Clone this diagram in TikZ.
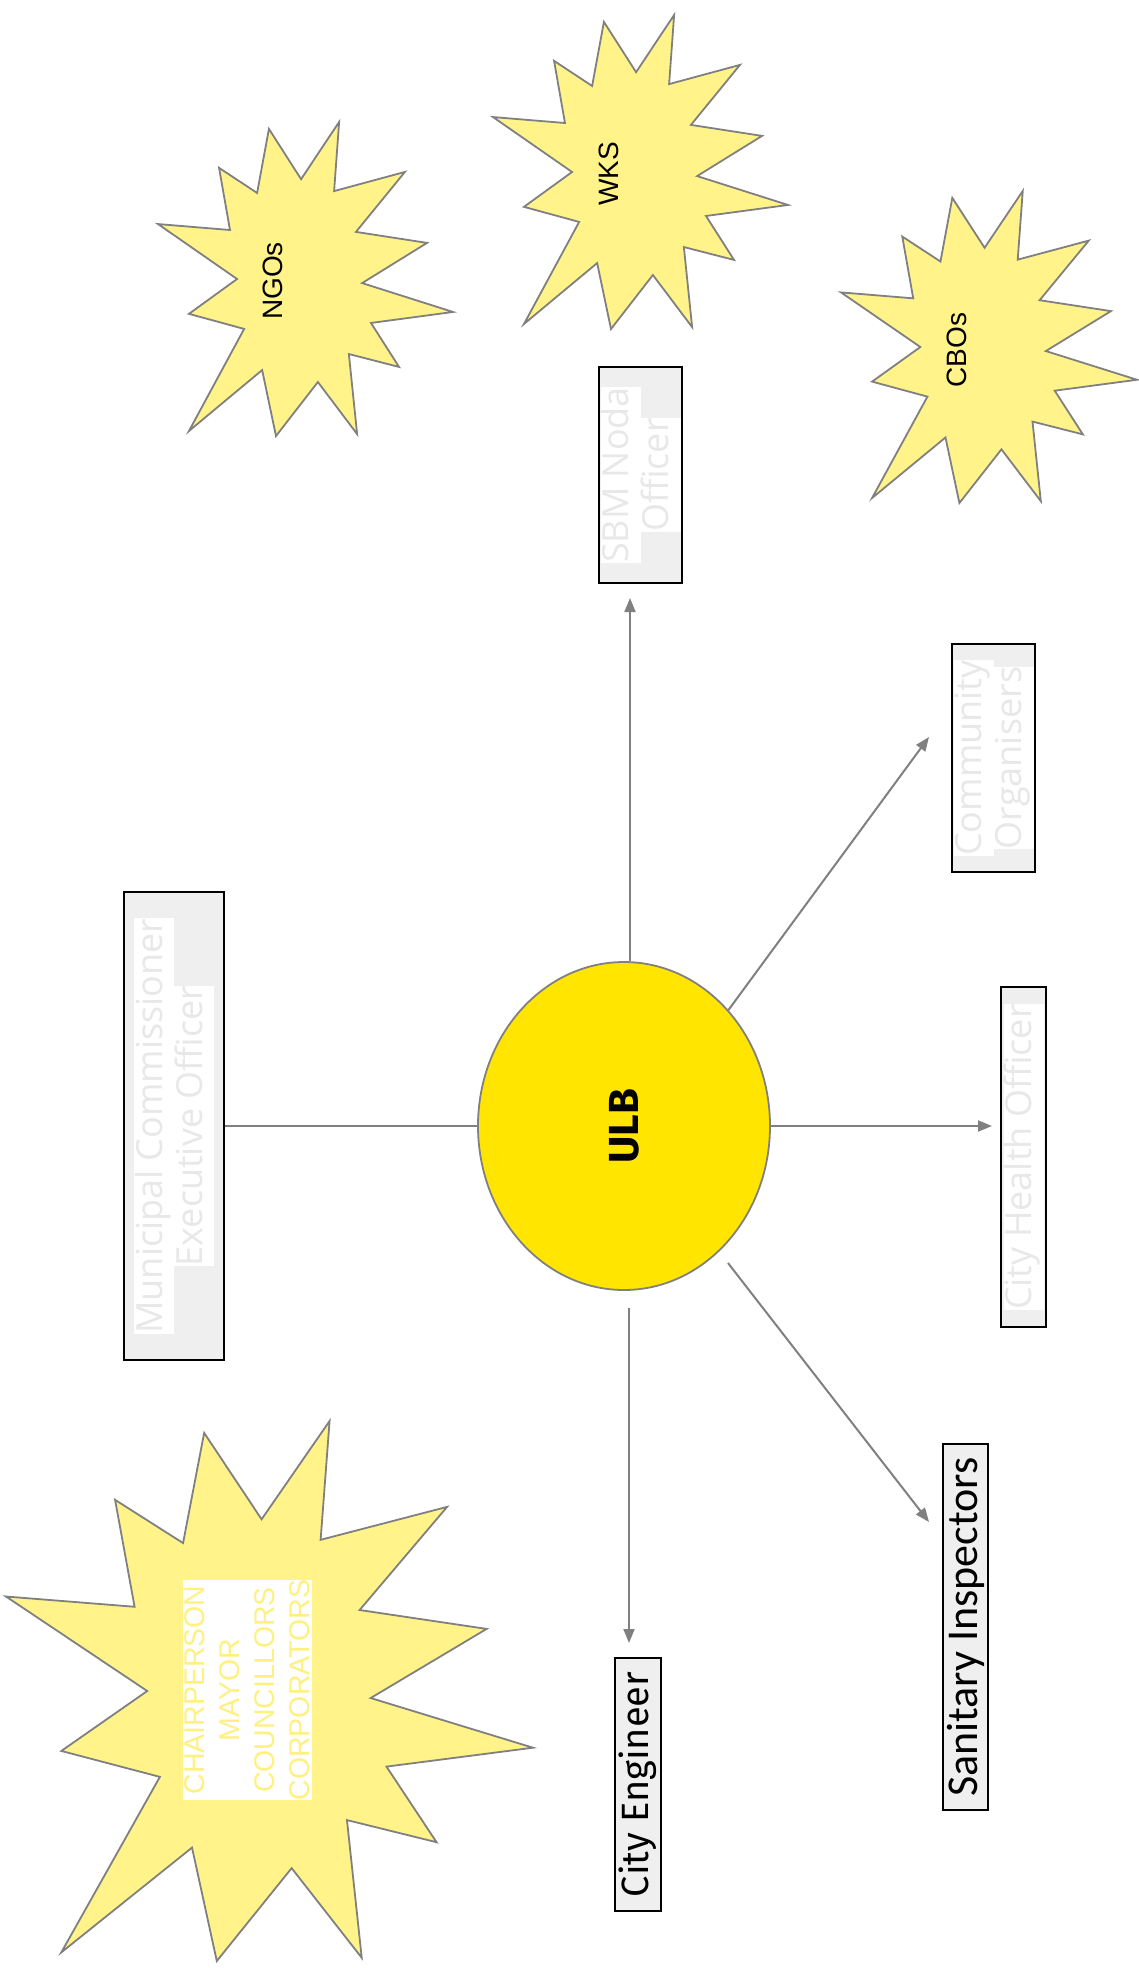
\documentclass[tikz,border=0pt]{standalone}
\usepackage{fontspec}
\usepackage{graphicx}
\setmainfont{Liberation Sans}
\newfontfamily\officefont{Open Sans}
\newfontfamily\dinfont{Fira Sans}
\newfontfamily\calfont{Carlito}
\usetikzlibrary{shapes.geometric,arrows.meta}

\definecolor{ulbyellow}{HTML}{FFE500}
\definecolor{burstyellow}{HTML}{FFF38A}
\definecolor{boxgray}{HTML}{EFEFEF}
\definecolor{ghost}{HTML}{E8E8E8}
\definecolor{linegray}{HTML}{808080}
\definecolor{paleyellow}{HTML}{FFF17F}

% white band behind each line of pale office text
\setlength{\fboxsep}{0pt}
\newcommand\band[1]{\colorbox{white}{\strut #1}}

\tikzset{
  burst/.pic={
    \draw[linegray, line width=1.8pt, fill=burstyellow, line join=miter]
      (0.614,0) -- (0.597,0.220) -- (0.837,0.159) -- (0.671,0.350) --
      (0.912,0.385) -- (0.692,0.513) -- (1,0.605) -- (0.722,0.640) --
      (0.817,0.780) -- (0.647,0.739) -- (0.675,0.994) -- (0.542,0.828) --
      (0.400,1) -- (0.353,0.790) -- (0.105,0.984) -- (0.292,0.659) --
      (0.105,0.611) -- (0.268,0.500) -- (0,0.325) -- (0.244,0.344) --
      (0.207,0.146) -- (0.336,0.226) -- (0.376,0.022) -- (0.485,0.182) -- cycle;
  },
  officebox/.style={draw=black, line width=1.8pt, fill=boxgray, rotate=90,
    inner sep=0pt, align=center, text=ghost,
    font={\officefont\fontsize{36}{40}\selectfont}},
  plainbox/.style={draw=black, line width=1.8pt, fill=boxgray, rotate=90,
    inner sep=0pt, text=black},
  burstlabel/.style={rotate=90, inner sep=0pt, text=black,
    font={\fontsize{28}{32}\selectfont}},
  link/.style={draw=linegray, line width=2pt},
  arr/.style={link, -{Triangle[length=14pt, width=11pt]}},
}

\begin{document}
\begin{tikzpicture}[x=1pt, y=-1pt]
\useasboundingbox[fill=white] (0,0) rectangle (1139,1968);

% bursts
\pic[xscale=527, yscale=540] at (6,1421) {burst};
\pic[xscale=295, yscale=314] at (158,122) {burst};
\pic[xscale=295, yscale=314] at (493,15) {burst};
\pic[xscale=296, yscale=312] at (841,191) {burst};

\node[burstlabel] (ngos) at (273,281) {NGOs};
\node[burstlabel] (wks) at (609,174) {WKS};
\node[burstlabel] (cbos) at (957,350) {CBOs};

\node[rotate=90, fill=white, text=paleyellow, inner xsep=0pt, inner ysep=2pt,
  align=center, font={\fontsize{28.5}{35}\selectfont}] (council) at (247.5,1690)
  {CHAIRPERSON\\MAYOR\\COUNCILLORS\\CORPORATORS};

% central body
\node[ellipse, draw=linegray, line width=1.8pt, fill=ulbyellow,
  minimum width=292pt, minimum height=328pt, inner sep=0pt,
  font={\dinfont\bfseries\fontsize{42}{46}\selectfont}] (ulb) at (624,1126)
  {\rotatebox{90}{ULB}};

% offices
\node[officebox, minimum width=468pt, minimum height=100pt] (mc) at (174,1126)
  {\band{Municipal Commissioner}\\\band{Executive Officer}};
\node[officebox, minimum width=216pt, minimum height=83pt] (sbm) at (640.5,475)
  {\band{SBM Noda}\\\band{Officer}};
\node[officebox, minimum width=228pt, minimum height=83pt] (co) at (993.5,758)
  {\band{Community}\\\band{Organisers}};
\node[officebox, minimum width=340pt, minimum height=45pt] (cho) at (1023.5,1157)
  {\band{City Health Officer}};
\node[plainbox, minimum width=253pt, minimum height=46pt,
  font={\dinfont\fontsize{38}{42}\selectfont}] (ce) at (638,1784.5)
  {City Engineer};
\node[plainbox, minimum width=366pt, minimum height=45pt,
  font={\calfont\fontsize{44}{48}\selectfont}] (si) at (965.5,1627)
  {Sanitary Inspectors};

% connector ends
\coordinate (sbmtip) at (630,598);
\coordinate (cotip) at (929,737);
\coordinate (chotip) at (992,1126);
\coordinate (cetip) at (629,1643);
\coordinate (sitip) at (929,1522);
\coordinate (sifoot) at (728,1263);

\draw[link] (ulb.west) -- (mc.south);
\draw[arr] (ulb.north -| sbmtip) -- (sbmtip);
\draw[arr] (ulb.48.6) -- (cotip);
\draw[arr] (ulb.east) -- (chotip);
\draw[arr] ([yshift=-17pt]ulb.south -| cetip) -- (cetip);
\draw[arr] (sifoot) -- (sitip);
\end{tikzpicture}
\end{document}
